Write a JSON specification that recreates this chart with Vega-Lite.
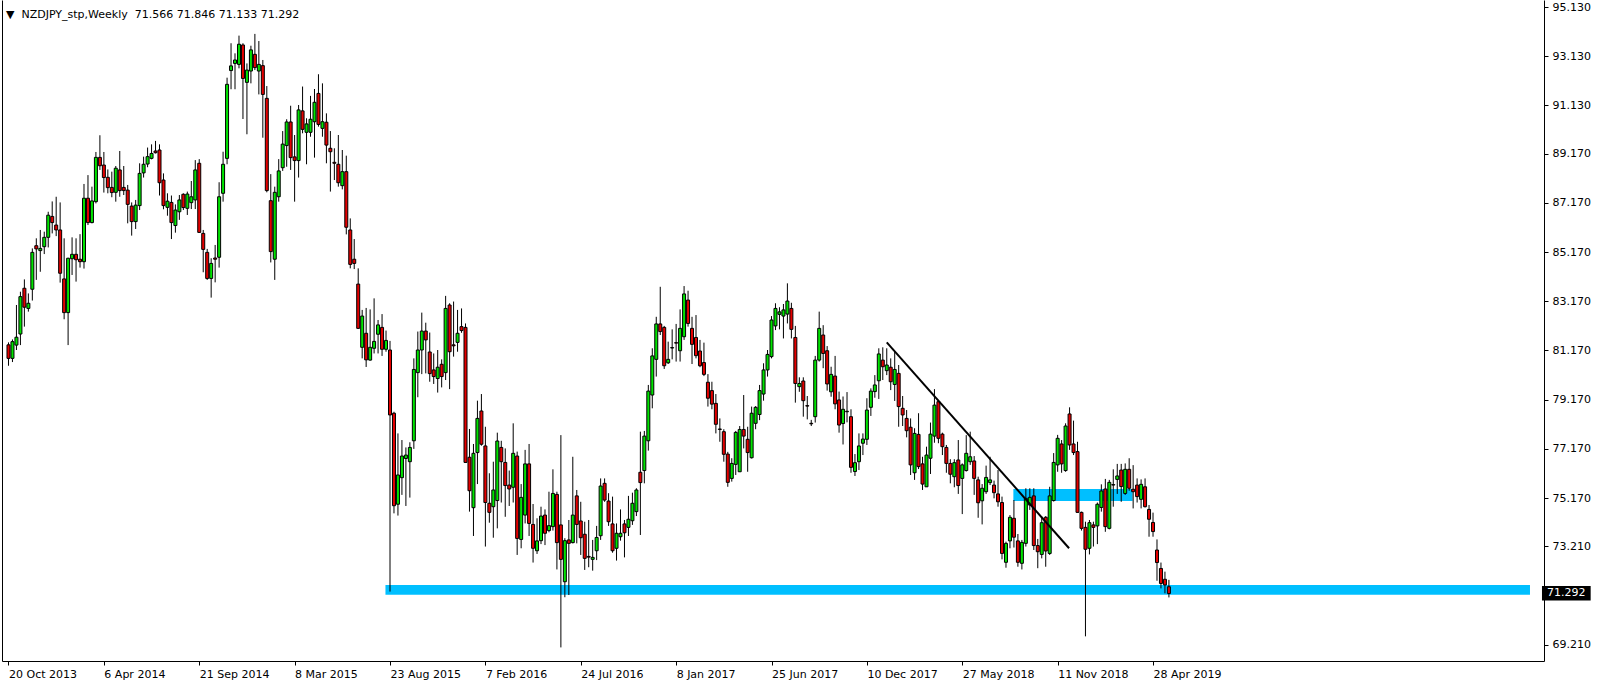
{
"$schema":"https://vega.github.io/schema/vega-lite/v6.json",
"width":1542,"height":661,
"autosize":{"type":"none"},
"padding":{"left":2,"top":0,"right":60,"bottom":26},
"background":"white",
"config":{"view":{"stroke":null},"font":"DejaVu Sans","axis":{"labelFont":"DejaVu Sans","labelFontSize":11,"labelColor":"black","domainColor":"black","tickColor":"black","grid":false}},
"title":{"text":"▼\u00a0\u00a0NZDJPY_stp,Weekly\u00a0\u00a071.566 71.846 71.133 71.292","anchor":"start","frame":"group","orient":"top","offset":-17,"dy":12,"baseline":"alphabetic","font":"DejaVu Sans","fontSize":11,"fontWeight":"normal","color":"black","dx":4},
"datasets":{
"zones":[{"x1":"2015-08-15","x2":"2021-02-20","y1":71.24,"y2":71.64},{"x1":"2018-08-25","x2":"2019-03-23","y1":75.05,"y2":75.54}],
"trend":[{"d":"2018-01-14","v":81.5},{"d":"2018-12-01T03:00:00Z","v":73.13}],
"price":[{"x1":"2021-03-13T03:00:00Z","x2":"2021-06-06T21:00:00Z","xt":"2021-04-25T00:00:00Z","y1":71.007,"y2":71.597,"v":71.292,"label":"71.292"}],
"candles":[
{"d":"2013-10-20","o":81.40,"h":81.50,"l":80.55,"c":80.85},
{"d":"2013-10-27","o":80.85,"h":81.62,"l":80.70,"c":81.53},
{"d":"2013-11-03","o":81.39,"h":83.02,"l":81.19,"c":81.71},
{"d":"2013-11-10","o":81.84,"h":83.56,"l":81.39,"c":83.36},
{"d":"2013-11-17","o":83.70,"h":84.06,"l":82.14,"c":82.93},
{"d":"2013-11-24","o":82.88,"h":83.49,"l":82.75,"c":83.09},
{"d":"2013-12-01","o":83.66,"h":85.32,"l":83.20,"c":85.16},
{"d":"2013-12-08","o":85.43,"h":85.73,"l":84.04,"c":85.30},
{"d":"2013-12-15","o":85.23,"h":86.07,"l":84.37,"c":85.32},
{"d":"2013-12-22","o":85.39,"h":86.00,"l":85.09,"c":85.77},
{"d":"2013-12-29","o":85.77,"h":86.81,"l":85.36,"c":86.67},
{"d":"2014-01-05","o":86.62,"h":87.23,"l":85.93,"c":86.37},
{"d":"2014-01-12","o":86.27,"h":87.42,"l":85.82,"c":86.07},
{"d":"2014-01-19","o":86.07,"h":87.19,"l":83.93,"c":84.31},
{"d":"2014-01-26","o":84.08,"h":85.73,"l":82.44,"c":82.71},
{"d":"2014-02-02","o":82.71,"h":84.94,"l":81.39,"c":84.92},
{"d":"2014-02-09","o":84.90,"h":85.77,"l":84.24,"c":85.08},
{"d":"2014-02-16","o":85.08,"h":85.73,"l":83.97,"c":84.86},
{"d":"2014-02-23","o":84.88,"h":85.90,"l":84.54,"c":84.78},
{"d":"2014-03-02","o":84.78,"h":87.94,"l":84.50,"c":87.36},
{"d":"2014-03-09","o":87.36,"h":88.30,"l":86.27,"c":86.37},
{"d":"2014-03-16","o":86.37,"h":87.83,"l":86.34,"c":87.25},
{"d":"2014-03-23","o":87.22,"h":89.24,"l":87.15,"c":89.02},
{"d":"2014-03-30","o":89.02,"h":89.92,"l":88.51,"c":88.68},
{"d":"2014-04-06","o":88.71,"h":89.24,"l":87.59,"c":88.20},
{"d":"2014-04-13","o":88.21,"h":88.53,"l":87.56,"c":87.79},
{"d":"2014-04-20","o":87.80,"h":88.44,"l":87.40,"c":87.59},
{"d":"2014-04-27","o":87.60,"h":88.67,"l":87.22,"c":88.58},
{"d":"2014-05-04","o":88.51,"h":89.28,"l":87.42,"c":87.67},
{"d":"2014-05-11","o":87.80,"h":88.67,"l":87.49,"c":87.67},
{"d":"2014-05-18","o":87.69,"h":87.90,"l":86.34,"c":87.11},
{"d":"2014-05-25","o":87.04,"h":87.19,"l":85.84,"c":86.41},
{"d":"2014-06-01","o":86.41,"h":87.29,"l":86.11,"c":87.08},
{"d":"2014-06-08","o":87.06,"h":88.78,"l":86.88,"c":88.37},
{"d":"2014-06-15","o":88.39,"h":89.05,"l":88.20,"c":88.74},
{"d":"2014-06-22","o":88.75,"h":89.42,"l":88.62,"c":89.05},
{"d":"2014-06-29","o":88.98,"h":89.55,"l":88.94,"c":89.18},
{"d":"2014-07-06","o":89.28,"h":89.69,"l":89.18,"c":89.21},
{"d":"2014-07-13","o":89.32,"h":89.55,"l":87.47,"c":87.99},
{"d":"2014-07-20","o":88.10,"h":88.37,"l":86.91,"c":87.06},
{"d":"2014-07-27","o":86.99,"h":87.56,"l":86.65,"c":87.24},
{"d":"2014-08-03","o":87.19,"h":87.47,"l":85.70,"c":86.37},
{"d":"2014-08-10","o":86.25,"h":87.11,"l":85.96,"c":86.88},
{"d":"2014-08-17","o":86.81,"h":87.49,"l":86.48,"c":87.29},
{"d":"2014-08-24","o":87.52,"h":87.56,"l":86.88,"c":86.98},
{"d":"2014-08-31","o":86.95,"h":87.63,"l":86.68,"c":87.53},
{"d":"2014-09-07","o":87.18,"h":88.06,"l":86.92,"c":87.42},
{"d":"2014-09-14","o":87.29,"h":88.91,"l":86.92,"c":88.51},
{"d":"2014-09-21","o":88.78,"h":88.95,"l":85.96,"c":85.97},
{"d":"2014-09-28","o":85.93,"h":86.07,"l":84.35,"c":85.28},
{"d":"2014-10-05","o":85.16,"h":85.30,"l":84.04,"c":84.10},
{"d":"2014-10-12","o":84.10,"h":84.92,"l":83.32,"c":84.71},
{"d":"2014-10-19","o":84.93,"h":85.46,"l":83.94,"c":84.88},
{"d":"2014-10-26","o":84.96,"h":88.01,"l":84.54,"c":87.42},
{"d":"2014-11-02","o":87.56,"h":89.25,"l":87.22,"c":88.74},
{"d":"2014-11-09","o":88.98,"h":92.26,"l":88.74,"c":91.99},
{"d":"2014-11-16","o":92.55,"h":93.66,"l":91.79,"c":92.74},
{"d":"2014-11-23","o":92.84,"h":93.25,"l":91.79,"c":92.98},
{"d":"2014-11-30","o":92.80,"h":93.97,"l":92.64,"c":93.62},
{"d":"2014-12-07","o":93.59,"h":93.66,"l":90.58,"c":92.23},
{"d":"2014-12-14","o":92.07,"h":92.84,"l":89.96,"c":92.57},
{"d":"2014-12-21","o":92.53,"h":93.56,"l":92.03,"c":93.39},
{"d":"2014-12-28","o":93.21,"h":94.04,"l":92.57,"c":92.67},
{"d":"2015-01-04","o":92.53,"h":93.75,"l":91.58,"c":92.80},
{"d":"2015-01-11","o":92.75,"h":92.98,"l":89.82,"c":91.58},
{"d":"2015-01-18","o":91.42,"h":91.92,"l":87.60,"c":87.67},
{"d":"2015-01-25","o":87.26,"h":88.34,"l":84.75,"c":85.19},
{"d":"2015-02-01","o":84.88,"h":87.83,"l":84.04,"c":87.60},
{"d":"2015-02-08","o":87.42,"h":88.95,"l":87.22,"c":88.47},
{"d":"2015-02-15","o":88.60,"h":90.09,"l":88.47,"c":89.56},
{"d":"2015-02-22","o":89.50,"h":90.57,"l":88.64,"c":90.46},
{"d":"2015-03-01","o":90.46,"h":91.12,"l":88.51,"c":89.01},
{"d":"2015-03-08","o":89.04,"h":89.93,"l":87.22,"c":88.89},
{"d":"2015-03-15","o":88.89,"h":91.15,"l":88.20,"c":90.95},
{"d":"2015-03-22","o":90.91,"h":91.90,"l":90.00,"c":90.16},
{"d":"2015-03-29","o":90.04,"h":90.61,"l":88.74,"c":90.38},
{"d":"2015-04-05","o":90.04,"h":91.52,"l":89.86,"c":90.57},
{"d":"2015-04-12","o":90.47,"h":91.80,"l":89.01,"c":91.26},
{"d":"2015-04-19","o":91.62,"h":92.40,"l":90.27,"c":90.36},
{"d":"2015-04-26","o":90.20,"h":92.03,"l":89.86,"c":90.47},
{"d":"2015-05-03","o":90.45,"h":90.81,"l":88.78,"c":89.52},
{"d":"2015-05-10","o":89.39,"h":90.09,"l":87.63,"c":89.25},
{"d":"2015-05-17","o":88.82,"h":89.39,"l":88.10,"c":88.78},
{"d":"2015-05-24","o":88.74,"h":89.93,"l":87.83,"c":87.99},
{"d":"2015-05-31","o":87.87,"h":89.32,"l":87.72,"c":88.44},
{"d":"2015-06-07","o":88.44,"h":89.09,"l":85.89,"c":86.18},
{"d":"2015-06-14","o":86.07,"h":86.54,"l":84.51,"c":84.67},
{"d":"2015-06-21","o":84.88,"h":85.70,"l":84.48,"c":84.71},
{"d":"2015-06-28","o":83.87,"h":84.51,"l":82.05,"c":82.07},
{"d":"2015-07-05","o":81.30,"h":82.82,"l":80.85,"c":82.57},
{"d":"2015-07-12","o":81.87,"h":82.90,"l":80.50,"c":80.79},
{"d":"2015-07-19","o":80.78,"h":82.84,"l":80.76,"c":81.30},
{"d":"2015-07-26","o":81.26,"h":83.29,"l":81.05,"c":81.54},
{"d":"2015-08-02","o":81.83,"h":82.41,"l":81.05,"c":82.21},
{"d":"2015-08-09","o":82.11,"h":82.65,"l":80.95,"c":81.22},
{"d":"2015-08-16","o":81.22,"h":81.98,"l":81.12,"c":81.58},
{"d":"2015-08-23","o":81.19,"h":81.56,"l":71.37,"c":78.55},
{"d":"2015-08-30","o":78.62,"h":78.68,"l":74.55,"c":74.86},
{"d":"2015-09-06","o":74.92,"h":77.80,"l":74.46,"c":76.11},
{"d":"2015-09-13","o":76.00,"h":77.53,"l":75.30,"c":76.88},
{"d":"2015-09-20","o":76.78,"h":77.23,"l":74.85,"c":76.92},
{"d":"2015-09-27","o":76.65,"h":77.44,"l":75.19,"c":77.23},
{"d":"2015-10-04","o":77.50,"h":80.85,"l":77.17,"c":80.40},
{"d":"2015-10-11","o":80.27,"h":81.94,"l":79.27,"c":81.19},
{"d":"2015-10-18","o":81.19,"h":82.71,"l":80.21,"c":81.96},
{"d":"2015-10-25","o":81.96,"h":82.30,"l":80.24,"c":81.60},
{"d":"2015-11-01","o":81.11,"h":81.90,"l":79.90,"c":80.23},
{"d":"2015-11-08","o":80.38,"h":81.05,"l":79.81,"c":80.11},
{"d":"2015-11-15","o":80.03,"h":81.19,"l":79.46,"c":80.49},
{"d":"2015-11-22","o":80.61,"h":80.81,"l":79.67,"c":80.11},
{"d":"2015-11-29","o":80.27,"h":83.39,"l":79.97,"c":82.88},
{"d":"2015-12-06","o":83.02,"h":83.09,"l":79.60,"c":81.12},
{"d":"2015-12-13","o":81.40,"h":83.16,"l":80.92,"c":81.36},
{"d":"2015-12-20","o":81.50,"h":82.82,"l":81.12,"c":81.87},
{"d":"2015-12-27","o":82.14,"h":82.88,"l":81.89,"c":81.98},
{"d":"2016-01-03","o":82.11,"h":82.27,"l":76.61,"c":76.62},
{"d":"2016-01-10","o":76.83,"h":77.98,"l":74.62,"c":75.47},
{"d":"2016-01-17","o":74.78,"h":77.37,"l":73.63,"c":76.99},
{"d":"2016-01-24","o":77.02,"h":79.13,"l":75.74,"c":78.41},
{"d":"2016-01-31","o":78.71,"h":79.40,"l":77.30,"c":77.36},
{"d":"2016-02-07","o":77.29,"h":78.07,"l":73.20,"c":74.99},
{"d":"2016-02-14","o":74.96,"h":76.18,"l":74.17,"c":74.59},
{"d":"2016-02-21","o":74.82,"h":76.65,"l":73.56,"c":75.50},
{"d":"2016-02-28","o":75.07,"h":77.83,"l":73.94,"c":77.49},
{"d":"2016-03-06","o":77.23,"h":77.50,"l":74.99,"c":76.65},
{"d":"2016-03-13","o":76.62,"h":77.19,"l":74.41,"c":75.68},
{"d":"2016-03-20","o":75.70,"h":76.29,"l":74.85,"c":75.54},
{"d":"2016-03-27","o":75.61,"h":78.21,"l":74.99,"c":76.99},
{"d":"2016-04-03","o":76.88,"h":77.06,"l":72.86,"c":73.53},
{"d":"2016-04-10","o":73.49,"h":75.74,"l":73.13,"c":75.20},
{"d":"2016-04-17","o":74.48,"h":77.13,"l":74.14,"c":76.56},
{"d":"2016-04-24","o":76.56,"h":77.37,"l":73.63,"c":74.14},
{"d":"2016-05-01","o":74.10,"h":74.93,"l":72.55,"c":73.13},
{"d":"2016-05-08","o":73.03,"h":74.35,"l":72.90,"c":73.43},
{"d":"2016-05-15","o":73.44,"h":74.82,"l":73.30,"c":74.44},
{"d":"2016-05-22","o":74.48,"h":74.71,"l":73.26,"c":73.74},
{"d":"2016-05-29","o":73.85,"h":75.43,"l":73.78,"c":74.05},
{"d":"2016-06-05","o":74.01,"h":76.34,"l":73.85,"c":75.36},
{"d":"2016-06-12","o":75.32,"h":75.43,"l":72.27,"c":73.36},
{"d":"2016-06-19","o":74.08,"h":77.73,"l":69.10,"c":72.68},
{"d":"2016-06-26","o":71.77,"h":73.54,"l":71.14,"c":73.44},
{"d":"2016-07-03","o":73.47,"h":74.28,"l":71.23,"c":73.33},
{"d":"2016-07-10","o":73.36,"h":76.85,"l":73.33,"c":74.48},
{"d":"2016-07-17","o":75.26,"h":75.50,"l":73.33,"c":74.10},
{"d":"2016-07-24","o":74.24,"h":75.02,"l":72.86,"c":73.56},
{"d":"2016-07-31","o":73.70,"h":74.21,"l":72.25,"c":72.72},
{"d":"2016-08-07","o":72.80,"h":74.28,"l":72.36,"c":72.77},
{"d":"2016-08-14","o":72.68,"h":73.47,"l":72.22,"c":72.76},
{"d":"2016-08-21","o":73.03,"h":74.04,"l":72.65,"c":73.57},
{"d":"2016-08-28","o":73.64,"h":75.97,"l":73.47,"c":75.66},
{"d":"2016-09-04","o":75.77,"h":75.97,"l":75.02,"c":75.09},
{"d":"2016-09-11","o":75.05,"h":75.37,"l":74.04,"c":74.21},
{"d":"2016-09-18","o":74.12,"h":75.23,"l":72.95,"c":73.03},
{"d":"2016-09-25","o":73.13,"h":74.14,"l":72.63,"c":73.74},
{"d":"2016-10-02","o":73.60,"h":74.71,"l":73.44,"c":73.74},
{"d":"2016-10-09","o":74.12,"h":74.28,"l":72.76,"c":73.76},
{"d":"2016-10-16","o":73.98,"h":75.26,"l":73.63,"c":74.31},
{"d":"2016-10-23","o":74.25,"h":75.39,"l":74.08,"c":74.96},
{"d":"2016-10-30","o":74.62,"h":75.57,"l":74.44,"c":75.50},
{"d":"2016-11-06","o":76.22,"h":77.87,"l":73.67,"c":75.80},
{"d":"2016-11-13","o":76.29,"h":77.90,"l":75.77,"c":77.69},
{"d":"2016-11-20","o":77.50,"h":79.77,"l":77.10,"c":79.52},
{"d":"2016-11-27","o":79.36,"h":81.26,"l":78.82,"c":80.95},
{"d":"2016-12-04","o":80.81,"h":82.54,"l":80.11,"c":82.25},
{"d":"2016-12-11","o":82.25,"h":83.76,"l":81.80,"c":81.94},
{"d":"2016-12-18","o":82.11,"h":82.17,"l":80.42,"c":80.55},
{"d":"2016-12-25","o":80.67,"h":81.53,"l":80.62,"c":80.81},
{"d":"2017-01-01","o":81.27,"h":82.03,"l":80.81,"c":81.29},
{"d":"2017-01-08","o":81.49,"h":82.25,"l":80.72,"c":81.47},
{"d":"2017-01-15","o":81.16,"h":82.84,"l":80.72,"c":82.07},
{"d":"2017-01-22","o":81.73,"h":83.79,"l":81.60,"c":83.47},
{"d":"2017-01-29","o":83.22,"h":83.60,"l":82.14,"c":82.27},
{"d":"2017-02-05","o":82.07,"h":82.54,"l":80.62,"c":81.42},
{"d":"2017-02-12","o":81.70,"h":82.61,"l":80.85,"c":80.96},
{"d":"2017-02-19","o":81.15,"h":81.60,"l":80.49,"c":80.55},
{"d":"2017-02-26","o":80.68,"h":81.49,"l":80.13,"c":80.20},
{"d":"2017-03-05","o":79.88,"h":80.21,"l":78.89,"c":79.23},
{"d":"2017-03-12","o":79.54,"h":79.90,"l":78.78,"c":78.99},
{"d":"2017-03-19","o":79.02,"h":79.40,"l":77.80,"c":78.17},
{"d":"2017-03-26","o":77.98,"h":78.41,"l":77.46,"c":77.96},
{"d":"2017-04-02","o":77.87,"h":77.97,"l":76.65,"c":76.95},
{"d":"2017-04-09","o":76.96,"h":77.05,"l":75.63,"c":75.81},
{"d":"2017-04-16","o":75.97,"h":76.79,"l":75.84,"c":76.58},
{"d":"2017-04-23","o":76.54,"h":77.90,"l":76.11,"c":77.84},
{"d":"2017-04-30","o":76.24,"h":78.10,"l":76.24,"c":77.96},
{"d":"2017-05-07","o":77.96,"h":79.36,"l":77.19,"c":77.69},
{"d":"2017-05-14","o":77.56,"h":78.07,"l":76.24,"c":77.02},
{"d":"2017-05-21","o":76.81,"h":78.89,"l":76.78,"c":78.62},
{"d":"2017-05-28","o":78.21,"h":78.91,"l":77.97,"c":78.86},
{"d":"2017-06-04","o":78.57,"h":79.77,"l":78.34,"c":79.54},
{"d":"2017-06-11","o":79.40,"h":80.65,"l":79.13,"c":80.38},
{"d":"2017-06-18","o":80.38,"h":81.19,"l":80.11,"c":81.01},
{"d":"2017-06-25","o":80.92,"h":82.57,"l":80.85,"c":82.41},
{"d":"2017-07-02","o":82.17,"h":83.09,"l":82.00,"c":82.88},
{"d":"2017-07-09","o":82.64,"h":82.93,"l":82.03,"c":82.74},
{"d":"2017-07-16","o":82.57,"h":83.06,"l":81.66,"c":82.82},
{"d":"2017-07-23","o":82.65,"h":83.90,"l":82.27,"c":83.18},
{"d":"2017-07-30","o":82.88,"h":83.11,"l":81.66,"c":82.03},
{"d":"2017-08-06","o":81.70,"h":82.17,"l":79.05,"c":79.83},
{"d":"2017-08-13","o":79.70,"h":80.08,"l":79.49,"c":79.83},
{"d":"2017-08-20","o":79.93,"h":80.08,"l":78.48,"c":79.13},
{"d":"2017-08-27","o":78.93,"h":79.32,"l":78.37,"c":78.91},
{"d":"2017-09-03","o":78.21,"h":78.35,"l":78.10,"c":78.19},
{"d":"2017-09-10","o":78.48,"h":80.95,"l":78.24,"c":80.78},
{"d":"2017-09-17","o":80.78,"h":82.75,"l":80.72,"c":82.07},
{"d":"2017-09-24","o":81.80,"h":82.20,"l":80.45,"c":81.05},
{"d":"2017-10-01","o":81.16,"h":81.35,"l":79.54,"c":79.81},
{"d":"2017-10-08","o":79.49,"h":80.51,"l":79.29,"c":80.20},
{"d":"2017-10-15","o":80.13,"h":80.95,"l":78.78,"c":79.00},
{"d":"2017-10-22","o":79.16,"h":79.50,"l":77.83,"c":78.14},
{"d":"2017-10-29","o":78.20,"h":79.30,"l":77.35,"c":78.78},
{"d":"2017-11-05","o":78.68,"h":79.48,"l":78.25,"c":78.70},
{"d":"2017-11-12","o":78.48,"h":78.78,"l":76.20,"c":76.42},
{"d":"2017-11-19","o":76.25,"h":76.96,"l":76.07,"c":76.61},
{"d":"2017-11-26","o":76.65,"h":77.80,"l":76.31,"c":77.29},
{"d":"2017-12-03","o":77.40,"h":77.80,"l":76.92,"c":77.57},
{"d":"2017-12-10","o":77.56,"h":79.23,"l":77.33,"c":78.75},
{"d":"2017-12-17","o":78.86,"h":79.63,"l":78.51,"c":79.52},
{"d":"2017-12-24","o":79.50,"h":80.17,"l":79.25,"c":79.77},
{"d":"2017-12-31","o":79.94,"h":81.26,"l":79.20,"c":81.03},
{"d":"2018-01-07","o":80.78,"h":81.30,"l":79.97,"c":80.51},
{"d":"2018-01-14","o":80.35,"h":81.26,"l":80.17,"c":80.58},
{"d":"2018-01-21","o":80.49,"h":80.85,"l":79.56,"c":79.90},
{"d":"2018-01-28","o":79.79,"h":81.12,"l":79.12,"c":80.40},
{"d":"2018-02-04","o":80.24,"h":80.58,"l":78.07,"c":78.89},
{"d":"2018-02-11","o":78.82,"h":79.32,"l":78.10,"c":78.55},
{"d":"2018-02-18","o":78.41,"h":78.75,"l":77.64,"c":77.91},
{"d":"2018-02-25","o":78.05,"h":78.41,"l":76.11,"c":76.52},
{"d":"2018-03-04","o":76.20,"h":78.01,"l":75.91,"c":77.80},
{"d":"2018-03-11","o":77.76,"h":78.62,"l":76.35,"c":76.45},
{"d":"2018-03-18","o":76.56,"h":76.85,"l":75.50,"c":75.74},
{"d":"2018-03-25","o":75.63,"h":77.26,"l":75.63,"c":76.92},
{"d":"2018-04-01","o":76.79,"h":78.24,"l":76.15,"c":77.77},
{"d":"2018-04-08","o":77.69,"h":79.60,"l":77.42,"c":78.95},
{"d":"2018-04-15","o":79.09,"h":79.16,"l":77.40,"c":77.60},
{"d":"2018-04-22","o":77.77,"h":77.83,"l":76.92,"c":77.26},
{"d":"2018-04-29","o":77.23,"h":77.33,"l":76.20,"c":76.58},
{"d":"2018-05-06","o":76.58,"h":76.75,"l":75.77,"c":76.14},
{"d":"2018-05-13","o":76.04,"h":76.75,"l":75.61,"c":76.61},
{"d":"2018-05-20","o":76.72,"h":77.53,"l":75.34,"c":75.68},
{"d":"2018-05-27","o":75.97,"h":76.58,"l":74.52,"c":76.52},
{"d":"2018-06-03","o":76.29,"h":77.73,"l":76.25,"c":76.99},
{"d":"2018-06-10","o":76.65,"h":77.87,"l":76.52,"c":76.85},
{"d":"2018-06-17","o":76.68,"h":76.88,"l":75.30,"c":75.97},
{"d":"2018-06-24","o":75.91,"h":76.04,"l":74.37,"c":74.98},
{"d":"2018-07-01","o":75.06,"h":75.74,"l":74.10,"c":75.57},
{"d":"2018-07-08","o":75.43,"h":76.49,"l":75.34,"c":76.01},
{"d":"2018-07-15","o":75.80,"h":76.85,"l":75.70,"c":75.91},
{"d":"2018-07-22","o":75.70,"h":75.88,"l":75.16,"c":75.39},
{"d":"2018-07-29","o":75.34,"h":76.31,"l":74.82,"c":75.02},
{"d":"2018-08-05","o":74.99,"h":75.23,"l":72.68,"c":72.92},
{"d":"2018-08-12","o":72.56,"h":73.40,"l":72.34,"c":73.33},
{"d":"2018-08-19","o":73.43,"h":74.48,"l":73.13,"c":74.39},
{"d":"2018-08-26","o":74.35,"h":75.09,"l":73.16,"c":73.58},
{"d":"2018-09-02","o":73.43,"h":73.71,"l":72.38,"c":72.56},
{"d":"2018-09-09","o":72.52,"h":73.47,"l":72.27,"c":73.37},
{"d":"2018-09-16","o":73.33,"h":75.57,"l":73.20,"c":75.16},
{"d":"2018-09-23","o":74.89,"h":75.57,"l":74.69,"c":75.20},
{"d":"2018-09-30","o":75.26,"h":75.57,"l":73.06,"c":73.24},
{"d":"2018-10-07","o":73.24,"h":73.51,"l":72.32,"c":72.99},
{"d":"2018-10-14","o":72.88,"h":74.42,"l":72.72,"c":74.17},
{"d":"2018-10-21","o":74.39,"h":74.44,"l":72.38,"c":73.02},
{"d":"2018-10-28","o":72.92,"h":75.63,"l":72.86,"c":75.26},
{"d":"2018-11-04","o":75.07,"h":77.00,"l":75.03,"c":76.62},
{"d":"2018-11-11","o":76.52,"h":77.74,"l":76.24,"c":77.60},
{"d":"2018-11-18","o":77.37,"h":77.53,"l":76.20,"c":76.56},
{"d":"2018-11-25","o":76.29,"h":78.21,"l":76.24,"c":78.10},
{"d":"2018-12-02","o":78.59,"h":78.86,"l":77.13,"c":77.33},
{"d":"2018-12-09","o":77.37,"h":78.32,"l":76.92,"c":77.02},
{"d":"2018-12-16","o":77.06,"h":77.46,"l":74.58,"c":74.59},
{"d":"2018-12-23","o":74.59,"h":74.62,"l":73.85,"c":73.94},
{"d":"2018-12-30","o":73.98,"h":74.21,"l":69.55,"c":73.09},
{"d":"2019-01-06","o":73.13,"h":74.28,"l":72.88,"c":74.17},
{"d":"2019-01-13","o":74.08,"h":74.21,"l":73.20,"c":73.98},
{"d":"2019-01-20","o":74.04,"h":74.99,"l":73.30,"c":74.92},
{"d":"2019-01-27","o":74.79,"h":75.73,"l":74.62,"c":75.46},
{"d":"2019-02-03","o":75.54,"h":75.95,"l":73.80,"c":74.01},
{"d":"2019-02-10","o":73.94,"h":75.91,"l":73.90,"c":75.81},
{"d":"2019-02-17","o":75.72,"h":76.34,"l":74.82,"c":75.70},
{"d":"2019-02-24","o":75.93,"h":76.56,"l":75.34,"c":76.07},
{"d":"2019-03-03","o":76.31,"h":76.56,"l":75.02,"c":75.64},
{"d":"2019-03-10","o":75.36,"h":76.58,"l":75.30,"c":76.34},
{"d":"2019-03-17","o":76.34,"h":76.79,"l":75.47,"c":75.57},
{"d":"2019-03-24","o":75.53,"h":76.51,"l":74.75,"c":75.43},
{"d":"2019-03-31","o":75.70,"h":75.97,"l":74.99,"c":75.23},
{"d":"2019-04-07","o":75.12,"h":75.93,"l":74.75,"c":75.73},
{"d":"2019-04-14","o":75.63,"h":75.97,"l":74.79,"c":74.82},
{"d":"2019-04-21","o":74.71,"h":74.89,"l":73.60,"c":74.31},
{"d":"2019-04-28","o":74.18,"h":74.58,"l":73.60,"c":73.81},
{"d":"2019-05-05","o":73.06,"h":73.49,"l":71.81,"c":72.55},
{"d":"2019-05-12","o":72.31,"h":72.55,"l":71.50,"c":71.70},
{"d":"2019-05-19","o":71.87,"h":72.18,"l":71.30,"c":71.64},
{"d":"2019-05-26","o":71.566,"h":71.846,"l":71.133,"c":71.292}
]},
"layer":[
{"data":{"name":"zones"},"mark":{"type":"rect","color":"#00BFFF"},
 "encoding":{
  "x":{"field":"x1","type":"temporal","scale":{"type":"utc","domain":[{"year":2013,"month":10,"date":17,"hours":9,"utc":true},{"year":2021,"month":3,"date":7,"hours":21,"utc":true}]},
   "axis":{"title":null,"values":[{"year":2013,"month":10,"date":20,"utc":true},{"year":2014,"month":4,"date":6,"utc":true},{"year":2014,"month":9,"date":21,"utc":true},{"year":2015,"month":3,"date":8,"utc":true},{"year":2015,"month":8,"date":23,"utc":true},{"year":2016,"month":2,"date":7,"utc":true},{"year":2016,"month":7,"date":24,"utc":true},{"year":2017,"month":1,"date":8,"utc":true},{"year":2017,"month":6,"date":25,"utc":true},{"year":2017,"month":12,"date":10,"utc":true},{"year":2018,"month":5,"date":27,"utc":true},{"year":2018,"month":11,"date":11,"utc":true},{"year":2019,"month":4,"date":28,"utc":true}],"labelExpr":"utcFormat(datum.value, '%-d %b %Y')","labelAlign":"left","labelBaseline":"top","labelPadding":3,"tickSize":4,"labelFlush":false,"labelOverlap":false,"labelBound":false,"grid":false}},
  "x2":{"field":"x2"},
  "y":{"field":"y1","type":"quantitative","scale":{"domain":[68.548,95.418],"nice":false,"zero":false},"axis":{"orient":"left","title":null,"labels":false,"ticks":false,"domain":true,"grid":false}},
  "y2":{"field":"y2"}}},
{"data":{"name":"candles"},"mark":{"type":"rule","color":"black","strokeWidth":1},
 "encoding":{
  "x":{"field":"d","type":"temporal","scale":{"type":"utc","domain":[{"year":2013,"month":10,"date":17,"hours":9,"utc":true},{"year":2021,"month":3,"date":7,"hours":21,"utc":true}]},"axis":{"title":null,"labelExpr":"utcFormat(datum.value, '%-d %b %Y')","labelAlign":"left","labelBaseline":"top","labelPadding":3,"tickSize":4,"labelFlush":false,"labelOverlap":false,"labelBound":false,"grid":false}},
  "y":{"field":"l","type":"quantitative","scale":{"domain":[68.548,95.418],"nice":false,"zero":false},"axis":{"orient":"right","title":null,"values":[95.13,93.13,91.13,89.17,87.17,85.17,83.17,81.17,79.17,77.17,75.17,73.21,69.21],"format":".3f","tickSize":4,"labelPadding":4,"grid":false}},
  "y2":{"field":"h"}}},
{"data":{"name":"candles"},"mark":{"type":"bar","orient":"vertical","stroke":"black","strokeWidth":1},
 "encoding":{
  "x":{"field":"d","type":"temporal","scale":{"type":"utc","domain":[{"year":2013,"month":10,"date":17,"hours":9,"utc":true},{"year":2021,"month":3,"date":7,"hours":21,"utc":true}]},"axis":{"title":null,"labelExpr":"utcFormat(datum.value, '%-d %b %Y')","labelAlign":"left","labelBaseline":"top","labelPadding":3,"tickSize":4,"labelFlush":false,"labelOverlap":false,"labelBound":false,"grid":false}},
  "y":{"field":"o","type":"quantitative","scale":{"domain":[68.548,95.418],"nice":false,"zero":false},"axis":null},
  "y2":{"field":"c"},
  "size":{"value":3},
  "fill":{"condition":{"test":"datum.c >= datum.o","value":"#00e400"},"value":"#e40000"}}},
{"data":{"name":"trend"},"mark":{"type":"line","color":"black","strokeWidth":2},
 "encoding":{
  "x":{"field":"d","type":"temporal","scale":{"type":"utc","domain":[{"year":2013,"month":10,"date":17,"hours":9,"utc":true},{"year":2021,"month":3,"date":7,"hours":21,"utc":true}]},"axis":{"title":null,"labelExpr":"utcFormat(datum.value, '%-d %b %Y')","labelAlign":"left","labelBaseline":"top","labelPadding":3,"tickSize":4,"labelFlush":false,"labelOverlap":false,"labelBound":false,"grid":false}},
  "y":{"field":"v","type":"quantitative","scale":{"domain":[68.548,95.418],"nice":false,"zero":false},"axis":null}}},
{"data":{"name":"price"},"mark":{"type":"rect","color":"black"},
 "encoding":{
  "x":{"field":"x1","type":"temporal","scale":{"type":"utc","domain":[{"year":2013,"month":10,"date":17,"hours":9,"utc":true},{"year":2021,"month":3,"date":7,"hours":21,"utc":true}]},"axis":{"title":null,"labelExpr":"utcFormat(datum.value, '%-d %b %Y')","labelAlign":"left","labelBaseline":"top","labelPadding":3,"tickSize":4,"labelFlush":false,"labelOverlap":false,"labelBound":false,"grid":false}},
  "x2":{"field":"x2"},
  "y":{"field":"y1","type":"quantitative","scale":{"domain":[68.548,95.418],"nice":false,"zero":false},"axis":null},
  "y2":{"field":"y2"}}},
{"data":{"name":"price"},"mark":{"type":"text","color":"white","font":"DejaVu Sans","fontSize":11,"align":"center","baseline":"middle"},
 "encoding":{
  "x":{"field":"xt","type":"temporal","scale":{"type":"utc","domain":[{"year":2013,"month":10,"date":17,"hours":9,"utc":true},{"year":2021,"month":3,"date":7,"hours":21,"utc":true}]},"axis":{"title":null,"labelExpr":"utcFormat(datum.value, '%-d %b %Y')","labelAlign":"left","labelBaseline":"top","labelPadding":3,"tickSize":4,"labelFlush":false,"labelOverlap":false,"labelBound":false,"grid":false}},
  "y":{"field":"v","type":"quantitative","scale":{"domain":[68.548,95.418],"nice":false,"zero":false},"axis":null},
  "text":{"field":"label"}}}
],
"resolve":{"axis":{"y":"independent"}}
}
